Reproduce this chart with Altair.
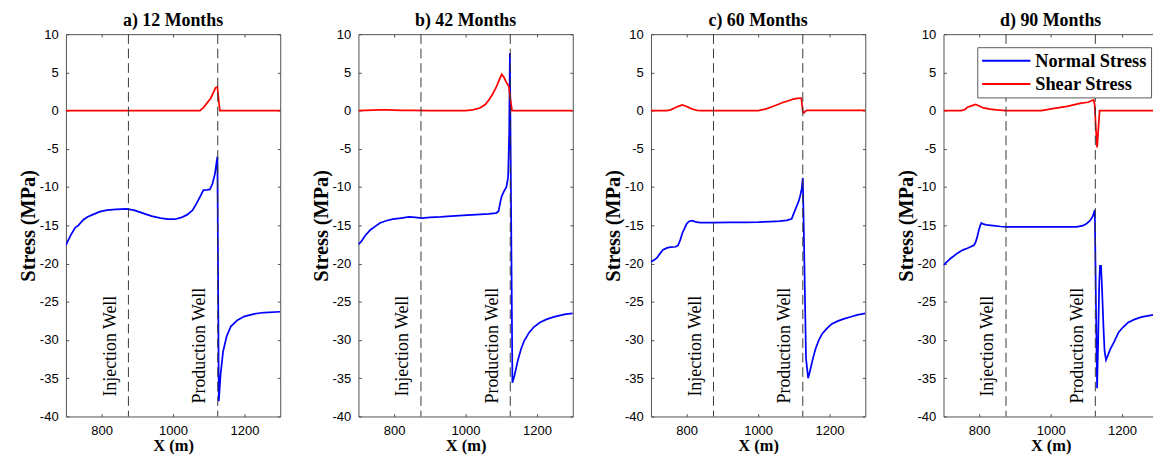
import altair as alt
import pandas as pd

titles = ["a) 12 Months", "b) 42 Months", "c) 60 Months", "d) 90 Months"]
series_names = ["Normal Stress", "Shear Stress"]
series_colors = ["#0000ff", "#ff0000"]

# ---- panel a (12 months)
normal_x_a = [700, 712, 726, 735, 748, 760, 775, 795, 815, 840, 870, 890, 915, 940, 965, 985, 1005, 1022,
              1040, 1055, 1065, 1075, 1085, 1095, 1103, 1110, 1117, 1124, 1128, 1133, 1140, 1150, 1162,
              1180, 1200, 1225, 1255, 1300]
normal_y_a = [-17.6, -16.4, -15.3, -15.0, -14.3, -13.9, -13.6, -13.2, -13.0, -12.9, -12.85, -13.0, -13.4,
              -13.8, -14.05, -14.2, -14.2, -14.0, -13.6, -13.0, -12.2, -11.3, -10.4, -10.35, -10.3, -9.6,
              -8.3, -6.0, -38.0, -34.5, -31.5, -29.5, -28.2, -27.4, -26.9, -26.6, -26.4, -26.3]
shear_x_a = [700, 1075, 1085, 1095, 1105, 1112, 1119, 1124, 1128, 1131, 1300]
shear_y_a = [0, 0, 0.4, 1.0, 1.6, 2.3, 3.0, 3.1, 1.2, 0.0, 0.0]

# ---- panel b (42 months)
normal_x_b = [700, 708, 718, 733, 748, 760, 778, 796, 820, 841, 860, 877, 900, 930, 960, 993, 1030, 1065,
              1085, 1092, 1097, 1101, 1108, 1114, 1119, 1122, 1124, 1131, 1137, 1146, 1155, 1164, 1178,
              1191, 1208, 1226, 1245, 1262, 1280, 1300]
normal_y_b = [-17.5, -17.1, -16.4, -15.6, -15.1, -14.7, -14.4, -14.2, -14.05, -13.9, -13.95, -14.05,
              -13.95, -13.9, -13.8, -13.7, -13.6, -13.5, -13.4, -13.2, -12.0, -11.2, -10.5, -10.0, -8.7,
              -3.0, 7.5, -35.6, -34.6, -32.7, -31.2, -30.1, -29.0, -28.3, -27.7, -27.3, -27.0, -26.8,
              -26.6, -26.5]
shear_x_b = [700, 760, 780, 820, 850, 900, 1000, 1020, 1040, 1055, 1065, 1075, 1085, 1093, 1101, 1108,
             1114, 1121, 1126, 1130, 1300]
shear_y_b = [0, 0.1, 0.1, 0.05, 0.05, 0, 0, 0.1, 0.35, 0.8, 1.4, 2.1, 3.0, 3.9, 4.75, 4.3, 3.7, 3.2,
             1.3, 0.0, 0.0]

# ---- panel c (60 months)
normal_x_c = [700, 716, 725, 734, 745, 755, 770, 776, 782, 788, 795, 800, 806, 815, 825, 837, 873, 920,
              963, 1000, 1035, 1060, 1080, 1094, 1100, 1107, 1113, 1118, 1122, 1125, 1128, 1134, 1140,
              1147, 1154, 1161, 1170, 1179, 1192, 1206, 1224, 1242, 1260, 1278, 1300]
normal_y_c = [-19.8, -19.3, -18.7, -18.2, -17.95, -17.85, -17.8, -17.6, -16.9, -16.0, -15.3, -14.8,
              -14.5, -14.4, -14.55, -14.65, -14.65, -14.62, -14.6, -14.58, -14.5, -14.45, -14.35,
              -14.15, -13.4, -12.6, -11.9, -11.1, -10.2, -8.8, -16.0, -32.4, -35.0, -33.7, -32.3,
              -31.1, -30.0, -29.2, -28.5, -27.9, -27.5, -27.2, -26.95, -26.7, -26.5]
shear_x_c = [700, 745, 755, 766, 778, 788, 800, 811, 820, 829, 840, 1000, 1020, 1035, 1055, 1071, 1085,
             1098, 1110, 1118, 1121, 1125, 1128, 1132, 1136, 1300]
shear_y_c = [0, 0, 0.1, 0.35, 0.6, 0.75, 0.55, 0.3, 0.15, 0.05, 0, 0, 0.2, 0.45, 0.8, 1.1, 1.3, 1.5,
             1.6, 1.65, 1.6, -0.1, -0.3, -0.1, 0.05, 0.05]

# ---- panel d (90 months)
normal_x_d = [700, 718, 740, 755, 767, 785, 790, 795, 799, 803, 806, 812, 820, 839, 860, 875, 956, 1040,
              1073, 1090, 1100, 1110, 1118, 1123.5, 1127, 1130, 1133, 1136, 1138, 1141, 1144, 1148, 1151,
              1155, 1160, 1167, 1178, 1190, 1203, 1217, 1235, 1253, 1275, 1300]
normal_y_d = [-20.2, -19.4, -18.6, -18.2, -18.0, -17.6, -17.2, -16.4, -15.6, -15.0, -14.7, -14.85,
              -14.95, -15.05, -15.15, -15.2, -15.2, -15.2, -15.2, -15.05, -14.8, -14.4, -13.8, -13.0,
              -26.0, -36.3, -30.0, -22.5, -20.3, -20.3, -23.5, -28.5, -31.5, -32.6, -32.0, -31.2, -30.2,
              -29.0, -28.3, -27.7, -27.3, -27.0, -26.8, -26.6]
shear_x_d = [700, 750, 760, 767, 780, 790, 800, 812, 830, 848, 875, 974, 1010, 1046, 1082, 1104, 1114,
             1120, 1123, 1127, 1130, 1132, 1134, 1137, 1300]
shear_y_d = [0, 0, 0.15, 0.45, 0.65, 0.8, 0.6, 0.35, 0.2, 0.1, 0, 0, 0.3, 0.55, 0.95, 1.1, 1.3, 1.4,
             0.9, -2.6, -4.8, -3.5, -2.0, 0, 0]

well_x = [875, 1125]
well_names = ["Injection Well", "Production Well"]
well_label_y = [-37.4, -38.3]

x_ticks = [800, 1000, 1200]
y_ticks = [-40, -35, -30, -25, -20, -15, -10, -5, 0, 5, 10]

normal_x = [normal_x_a, normal_x_b, normal_x_c, normal_x_d]
normal_y = [normal_y_a, normal_y_b, normal_y_c, normal_y_d]
shear_x = [shear_x_a, shear_x_b, shear_x_c, shear_x_d]
shear_y = [shear_y_a, shear_y_b, shear_y_c, shear_y_d]

W, H = 222, 396
SERIF = "Liberation Serif"
SANS = "Liberation Sans"

wells_df = pd.DataFrame({"x": well_x, "name": well_names, "y": well_label_y})


def make_panel(i):
    rows = []
    for k, (xs, ys) in enumerate([(normal_x[i], normal_y[i]), (shear_x[i], shear_y[i])]):
        for j, (xv, yv) in enumerate(zip(xs, ys)):
            rows.append({"x": xv, "y": yv, "series": series_names[k], "idx": j})
    df = pd.DataFrame(rows)

    xenc = alt.X("x:Q", scale=alt.Scale(domain=[700, 1300], nice=False, zero=False),
                 axis=alt.Axis(values=x_ticks, title="X (m)", labelExpr="'' + datum.value",
                               labelOverlap=False))
    yenc = alt.Y("y:Q", scale=alt.Scale(domain=[-40, 10], nice=False, zero=False),
                 axis=alt.Axis(values=y_ticks, title="Stress (MPa)", labelExpr="'' + datum.value",
                               labelOverlap=False))

    if i == 3:
        legend = alt.Legend(orient="none", legendX=35, legendY=13.5, title=None,
                            symbolType="stroke", symbolSize=2500, symbolStrokeWidth=2,
                            clipHeight=20, rowPadding=4, padding=4,
                            labelFont=SERIF, labelFontSize=19, labelFontWeight="bold",
                            labelColor="black", labelOffset=4,
                            strokeColor="#555555", fillColor="white")
    else:
        legend = None

    lines = alt.Chart(df).mark_line(strokeWidth=1.8, clip=True).encode(
        x=xenc, y=yenc,
        color=alt.Color("series:N", scale=alt.Scale(domain=series_names, range=series_colors),
                        legend=legend),
        order="idx:Q",
    )
    rules = alt.Chart(wells_df).mark_rule(strokeDash=[10, 5], color="#333333", strokeWidth=1).encode(
        x=xenc
    )
    labels = alt.Chart(wells_df).mark_text(
        angle=270, align="left", baseline="alphabetic", dy=-13,
        font=SERIF, fontSize=18.5, color="black"
    ).encode(x=xenc, y=yenc, text="name:N")

    return alt.layer(lines, rules, labels).properties(
        width=W, height=H, title=alt.TitleParams(titles[i])
    )


chart = alt.hconcat(*[make_panel(i) for i in range(4)], spacing=29).resolve_scale(
    color="independent"
).resolve_legend(color="independent").properties(
    padding={"left": 9, "top": -5, "right": -6, "bottom": 0},
    background="white",
).configure_view(
    stroke="#4d4d4d", strokeWidth=1
).configure_axis(
    grid=True, gridColor="#4d4d4d", gridOpacity=1, gridWidth=1,
    ticks=False, tickSize=0, domain=False, labelOverlap=False,
    labelFont=SANS, labelFontSize=13.5, labelColor="black",
    titleFont=SERIF, titleFontWeight="bold", titleColor="black", titlePadding=1,
).configure_axisX(
    gridDash=[3, H - 6], labelPadding=8, titleFontSize=17,
).configure_axisY(
    gridDash=[3, W - 6], labelPadding=8, titleFontSize=21,
).configure_title(
    font=SERIF, fontSize=18.5, fontWeight="bold", color="black", offset=-2,
    baseline="alphabetic", anchor="middle",
)

chart.save("out.html", embed_options={"renderer": "svg", "actions": False})
